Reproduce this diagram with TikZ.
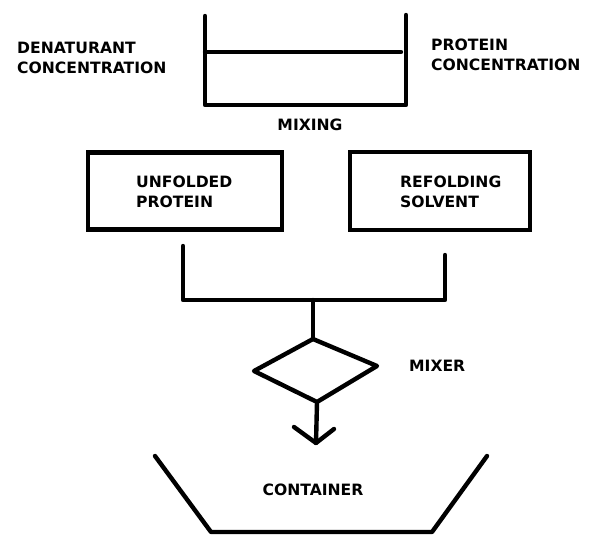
\documentclass[tikz,border=0pt]{standalone}
\usepackage{fontspec}
\setmainfont{DejaVu Sans}
\begin{document}
\begin{tikzpicture}[x=1pt,y=-1pt,line width=4.4pt,line cap=round,line join=round,
  lbl/.style={font=\bfseries\fontsize{15.6}{20}\selectfont,align=left,inner sep=0pt},
  box/.style={draw,line width=4.6pt,line cap=butt,line join=miter,inner sep=0pt}]
\useasboundingbox (0,0) rectangle (593,535);
% trough
\coordinate (ttl) at (205,16);
\coordinate (tbl) at (205,105);
\coordinate (tbr) at (406,105);
\coordinate (ttr) at (406,15);
\coordinate (tml) at (205,52);
\coordinate (tmr) at (401,52);
\draw (ttl) -- (tbl) -- (tbr) -- (ttr);
\draw (tml) -- (tmr);
\node[lbl,anchor=west] (den) at (15,58) {DENATURANT\\CONCENTRATION};
\node[lbl,anchor=west] (pro) at (429,55) {PROTEIN\\CONCENTRATION};
\node[lbl] (mix) at (310,125) {MIXING};
% boxes
\node[box,minimum width=194pt,minimum height=77pt] (unf) at (185,191) {};
\node[box,minimum width=180pt,minimum height=78pt] (ref) at (440,191) {};
\node[lbl,anchor=west] (unft) at (134,192) {UNFOLDED\\PROTEIN};
\node[lbl,anchor=west] (reft) at (398,192) {REFOLDING\\SOLVENT};
% connector
\coordinate (la) at (183,246);
\coordinate (lb) at (183,300);
\coordinate (ra) at (445,255);
\coordinate (rb) at (445,300);
\coordinate (mid) at (313,300);
\coordinate (dt) at (313,339);
\coordinate (dr) at (377,366);
\coordinate (db) at (317,402);
\coordinate (dl) at (254,371);
\draw (la) -- (lb) -- (rb) -- (ra);
\draw (mid) -- (dt);
\draw (dt) -- (dr) -- (db) -- (dl) -- cycle;
\node[lbl,anchor=west] (mixer) at (407,366) {MIXER};
% arrow
\coordinate (tip) at (316,443);
\coordinate (wl) at (294,427);
\coordinate (wr) at (334,429);
\draw (db) -- (tip);
\draw (wl) -- (tip) -- (wr);
% container
\coordinate (ctl) at (155,456);
\coordinate (cbl) at (211,532);
\coordinate (cbr) at (432,532);
\coordinate (ctr) at (487,456);
\draw (ctl) -- (cbl) -- (cbr) -- (ctr);
\node[lbl] (cont) at (313,490) {CONTAINER};
\end{tikzpicture}
\end{document}
